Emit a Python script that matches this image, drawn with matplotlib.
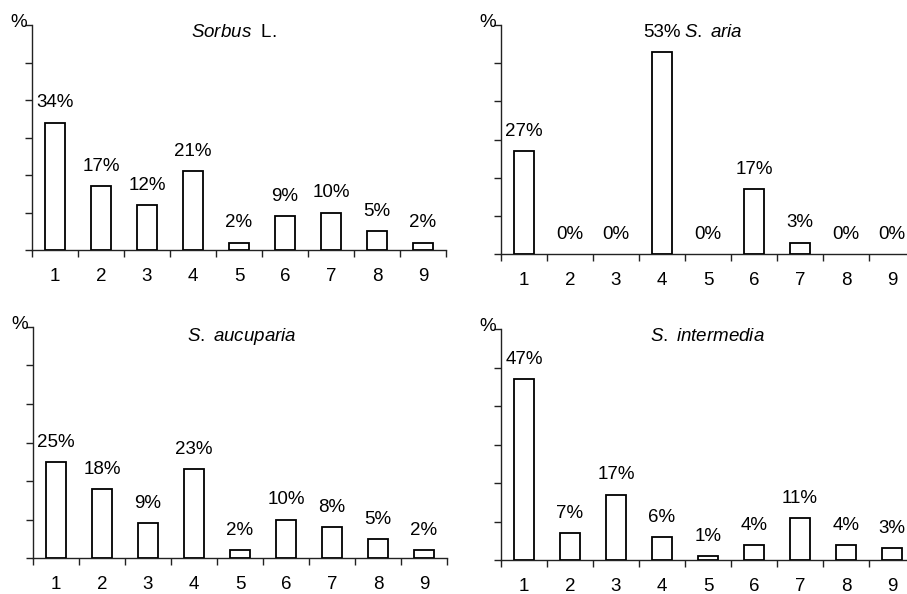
import matplotlib
matplotlib.use("Agg")
import matplotlib.pyplot as plt

plt.rcParams["font.family"] = "Liberation Sans"
plt.rcParams["mathtext.fontset"] = "custom"
plt.rcParams["mathtext.rm"] = "Liberation Sans"
plt.rcParams["mathtext.it"] = "Liberation Sans:italic"

categories = [1, 2, 3, 4, 5, 6, 7, 8, 9]
sorbus = [34, 17, 12, 21, 2, 9, 10, 5, 2]
aria = [27, 0, 0, 53, 0, 17, 3, 0, 0]
aucuparia = [25, 18, 9, 23, 2, 10, 8, 5, 2]
intermedia = [47, 7, 17, 6, 1, 4, 11, 4, 3]

titles = [r"$\it{Sorbus}$  L.", r"$\it{S.\ aria}$",
          r"$\it{S.\ aucuparia}$", r"$\it{S.\ intermedia}$"]
series = [sorbus, aria, aucuparia, intermedia]

# axes boxes in figure fractions
boxes = [
    [0.0353, 0.5791, 0.4564, 0.3788],
    [0.5524, 0.5724, 0.4564, 0.3855],
    [0.0364, 0.0606, 0.4564, 0.3889],
    [0.5524, 0.0572, 0.4564, 0.3889],
]
title_x = [0.487, 0.513, 0.505, 0.498]

fs = 13.5
fig = plt.figure(figsize=(9.07, 5.94), dpi=100)

for box, vals, title, tx in zip(boxes, series, titles, title_x):
    ax = fig.add_axes(box)
    ax.bar(categories, vals, width=0.43, color="white",
           edgecolor=["black" if v > 0 else "none" for v in vals],
           linewidth=1.3, zorder=3)
    for x, v in zip(categories, vals):
        ax.annotate(f"{v}%", (x, v), xytext=(0, 8), textcoords="offset points",
                    ha="center", va="bottom", fontsize=fs)
    ax.set_xlim(0.5, 9.5)
    ax.set_ylim(0, 60)
    ax.spines["top"].set_visible(False)
    ax.spines["right"].set_visible(False)
    for s in ["left", "bottom"]:
        ax.spines[s].set_linewidth(1.0)
        ax.spines[s].set_color("#222222")
    ax.set_yticks(range(0, 61, 10))
    ax.set_yticklabels([])
    ax.set_xticks([c + 0.5 for c in [0] + categories])
    ax.set_xticklabels([])
    ax.set_xticks(categories, minor=True)
    ax.set_xticklabels([str(c) for c in categories], minor=True, fontsize=fs)
    ax.tick_params(axis="x", which="minor", length=0, pad=13)
    ax.tick_params(axis="both", which="major", length=5, width=1.0,
                   direction="out", color="#222222")
    ax.text(tx, 1.005, title, transform=ax.transAxes, ha="center", va="top",
            fontsize=fs)
    ax.text(-0.012, 1.01, "%", transform=ax.transAxes, ha="right",
            va="center", fontsize=fs)

plt.savefig("out.png", dpi=100)
